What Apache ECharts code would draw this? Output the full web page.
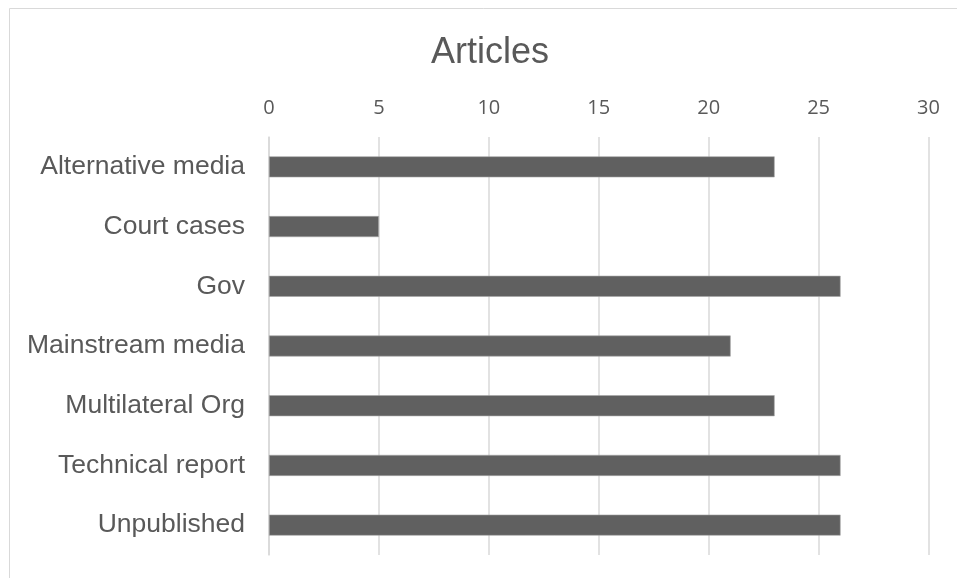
<!DOCTYPE html>
<html>
<head>
<meta charset="utf-8">
<title>Articles</title>
<script src="https://cdn.jsdelivr.net/npm/echarts@6/dist/echarts.min.js"></script>
<style>
  html, body { margin: 0; padding: 0; background: #ffffff; }
  #chart { width: 957px; height: 578px; }
</style>
</head>
<body>
<div id="chart"></div>
<script>
// Source categories and article counts
const categories = [
  'Alternative media',
  'Court cases',
  'Gov',
  'Mainstream media',
  'Multilateral Org',
  'Technical report',
  'Unpublished'
];
const articleCounts = [23, 5, 26, 21, 23, 26, 26];

// Value axis range
const axisMin = 0;
const axisMax = 30;
const axisStep = 5;

const textColor = '#595959';
const gridColor = '#d9d9d9';

const chart = echarts.init(document.getElementById('chart'), null, { renderer: 'canvas' });

chart.setOption({
  animation: false,
  backgroundColor: '#ffffff',
  title: {
    text: 'Articles',
    left: 426,
    top: 30,
    textStyle: {
      fontFamily: 'Liberation Sans, Arial, sans-serif',
      fontSize: 36,
      fontWeight: 'normal',
      color: textColor
    }
  },
  graphic: [{
    type: 'rect',
    shape: { x: 9.5, y: 8.5, width: 1000, height: 1000 },
    style: { fill: 'none', stroke: gridColor, lineWidth: 1 },
    silent: true,
    z: -1
  }],
  grid: {
    left: 269,
    right: 28.5,
    top: 137,
    bottom: 23,
    containLabel: false
  },
  xAxis: {
    type: 'value',
    position: 'top',
    min: axisMin,
    max: axisMax,
    interval: axisStep,
    axisLine: { show: false },
    axisTick: { show: false },
    splitLine: { show: true, lineStyle: { color: gridColor, width: 1.5 } },
    axisLabel: {
      margin: 19,
      fontFamily: 'Open Sans, Liberation Sans, sans-serif',
      fontSize: 20,
      color: textColor
    }
  },
  yAxis: {
    type: 'category',
    data: categories,
    inverse: true,
    axisLine: { show: true, lineStyle: { color: gridColor, width: 1.5 } },
    axisTick: { show: false },
    splitLine: { show: false },
    axisLabel: {
      margin: 24,
      fontFamily: 'Liberation Sans, Arial, sans-serif',
      fontSize: 26.5,
      color: textColor
    }
  },
  series: [{
    type: 'bar',
    data: articleCounts,
    barWidth: 21,
    itemStyle: {
      color: '#606060',
      borderColor: '#a6a6a6',
      borderWidth: 0.6
    }
  }]
});
</script>
</body>
</html>
